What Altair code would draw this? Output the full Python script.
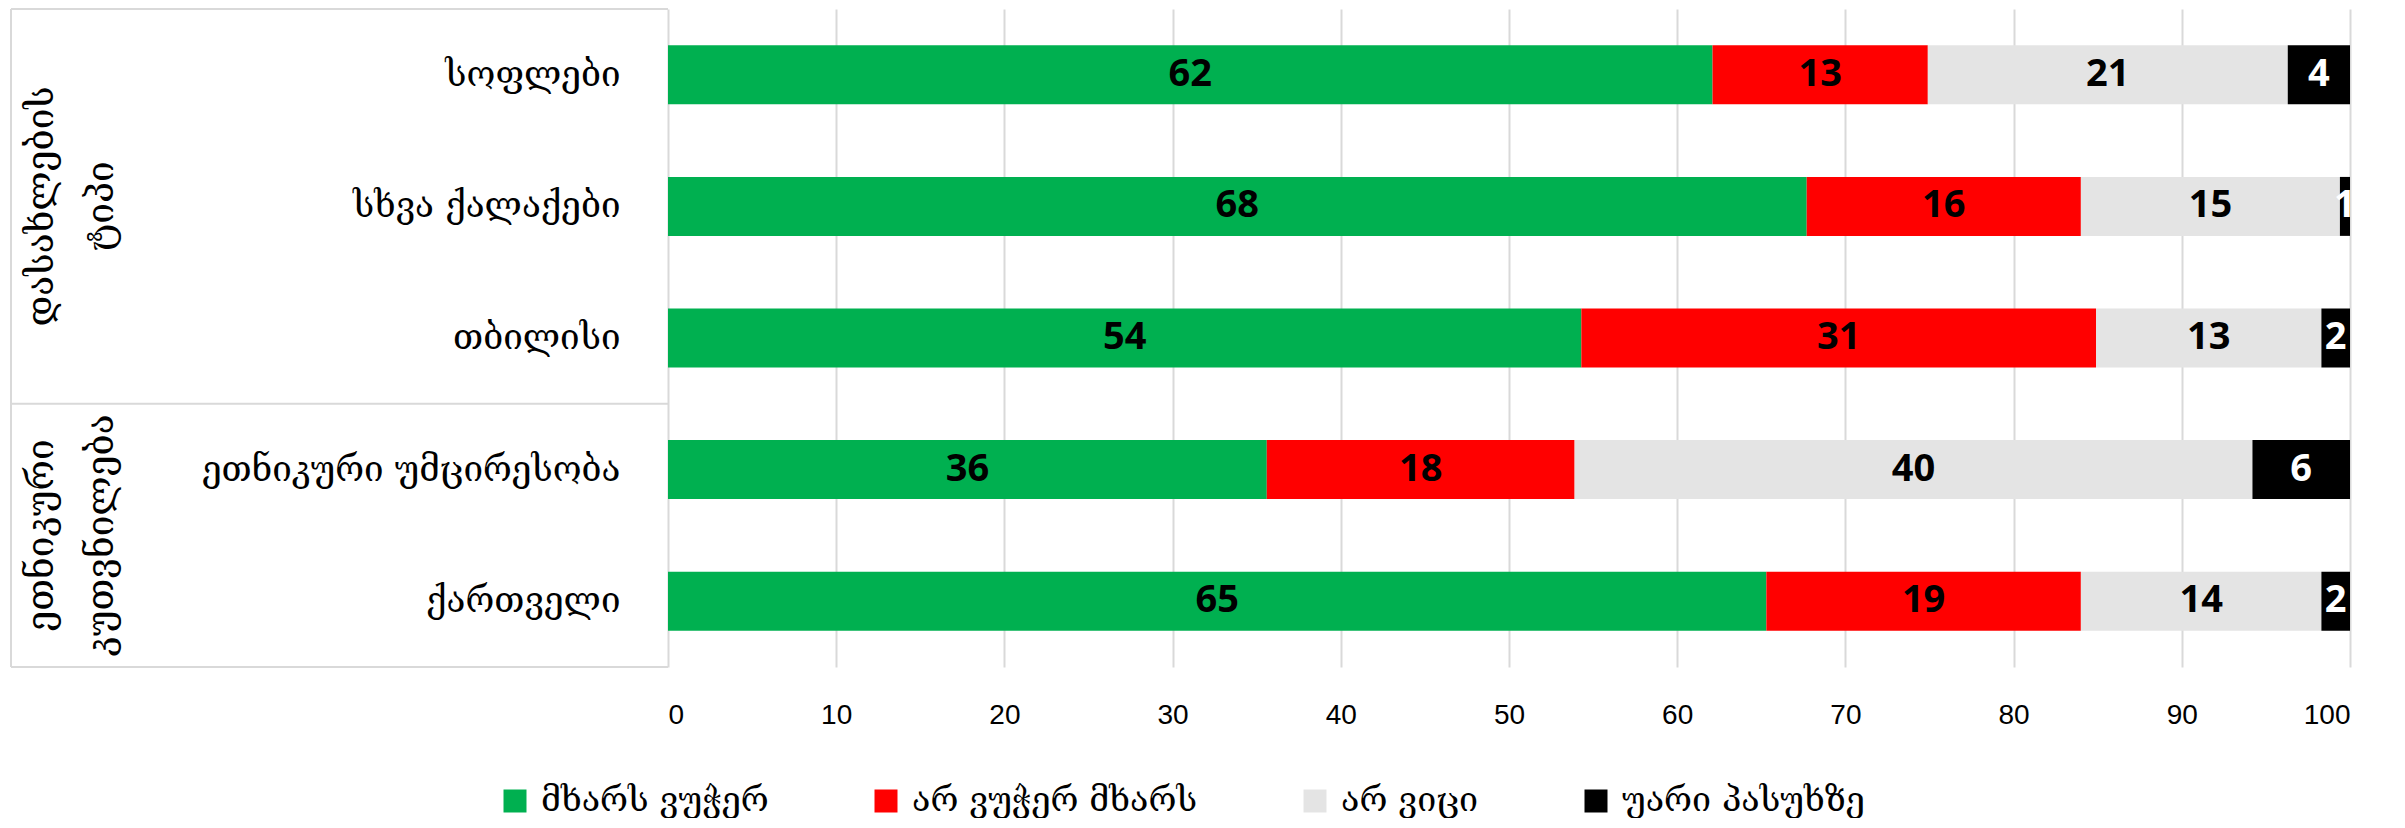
import altair as alt
import pandas as pd

# ---- data ----
categories = ["სოფლები", "სხვა ქალაქები", "თბილისი", "ეთნიკური უმცირესობა", "ქართველი"]
series = ["მხარს ვუჭერ", "არ ვუჭერ მხარს", "არ ვიცი", "უარი პასუხზე"]
colors = ["#00B050", "#FF0000", "#E4E4E4", "#000000"]
support = [62.1, 67.7, 54.3, 35.6, 65.3]
oppose = [12.8, 16.3, 30.6, 18.3, 18.7]
dont_know = [21.4, 15.4, 13.4, 40.3, 14.3]
refuse = [3.7, 0.6, 1.7, 5.8, 1.7]
group_labels = ["დასახლების\nტიპი", "ეთნიკური\nკუთვნილება"]
x_ticks = [0, 10, 20, 30, 40, 50, 60, 70, 80, 90, 100]

W = 1682
H = 658
GEO_FONT = "DejaVu Serif"
CAT_SIZE = 35
GROUP_SIZE = 37
LEG_SIZE = 34
BORDER = "#D9D9D9"
LEFT_EDGE = -657

rows = []
for si, (s, vals) in enumerate(zip(series, [support, oppose, dont_know, refuse])):
    for c, v in zip(categories, vals):
        rows.append({"category": c, "series": s, "value": v, "order": si})
df = pd.DataFrame(rows)

yenc = alt.Y("category:N", sort=categories, title=None,
             scale=alt.Scale(paddingInner=0.552, paddingOuter=0.276),
             axis=alt.Axis(labelFont=GEO_FONT, labelFontSize=CAT_SIZE, labelColor="#000000",
                           labelPadding=48, labelLimit=700, ticks=False, domain=False, grid=False))

base = alt.Chart(df)

bars = base.mark_bar().encode(
    x=alt.X("value:Q", stack="zero", title=None,
            scale=alt.Scale(domain=[0, 100], nice=False),
            axis=alt.Axis(values=x_ticks, labelFont="Liberation Sans Narrow, Liberation Sans",
                          labelFontSize=28, labelColor="#000000", labelPadding=34,
                          ticks=False, domain=False, grid=True, gridColor=BORDER, gridWidth=2)),
    y=yenc,
    color=alt.Color("series:N", scale=alt.Scale(domain=series, range=colors), sort=series,
                    legend=alt.Legend(orient="none", legendX=-170, legendY=775, direction="horizontal",
                                      title=None, symbolType="square", symbolSize=529,
                                      symbolStrokeWidth=0, labelFont=GEO_FONT,
                                      labelFontSize=LEG_SIZE, labelColor="#000000", labelLimit=1000,
                                      labelOffset=9, columnPadding=100, padding=0)),
    order=alt.Order("order:Q", sort="ascending"),
)

labels = base.transform_stack(
    stack="value", groupby=["category"], sort=[alt.SortField("order", order="ascending")],
    as_=["x0", "x1"]
).transform_calculate(mid="(datum.x0 + datum.x1) / 2").mark_text(
    font="Open Sans", fontWeight="bold", fontSize=38, baseline="middle", align="center", clip=True
).encode(
    x=alt.X("mid:Q"),
    y=alt.Y("category:N", sort=categories),
    text=alt.Text("value:Q", format=".0f"),
    color=alt.condition(alt.datum.series == series[3], alt.value("#FFFFFF"), alt.value("#000000")),
)

dummy = alt.Chart(pd.DataFrame({"a": [0]}))
rules = []
for yv in [0, 3 * H / 5, H]:
    rules.append(dummy.mark_rule(color=BORDER, strokeWidth=2).encode(
        x=alt.value(LEFT_EDGE), x2=alt.value(0), y=alt.value(yv)))
rules.append(dummy.mark_rule(color=BORDER, strokeWidth=2).encode(
    x=alt.value(LEFT_EDGE), y=alt.value(0), y2=alt.value(H)))

gdf = pd.DataFrame({"label": group_labels, "g": [0, 1]})
g_text = []
for i, yv in enumerate([1.5 * H / 5, 4 * H / 5]):
    g_text.append(alt.Chart(gdf[gdf.g == i]).mark_text(
        angle=270, align="center", baseline="middle", font=GEO_FONT, fontSize=GROUP_SIZE,
        lineBreak="\n", lineHeight=60, color="#000000"
    ).encode(text="label:N", x=alt.value(-626), y=alt.value(yv)))

chart = alt.layer(*rules, bars, labels, *g_text).properties(
    width=W, height=H, padding={"left": 2, "top": 0, "right": 5, "bottom": 0}
).configure_view(stroke=None)

chart.save("out.html", embed_options={"renderer": "svg", "actions": False})
